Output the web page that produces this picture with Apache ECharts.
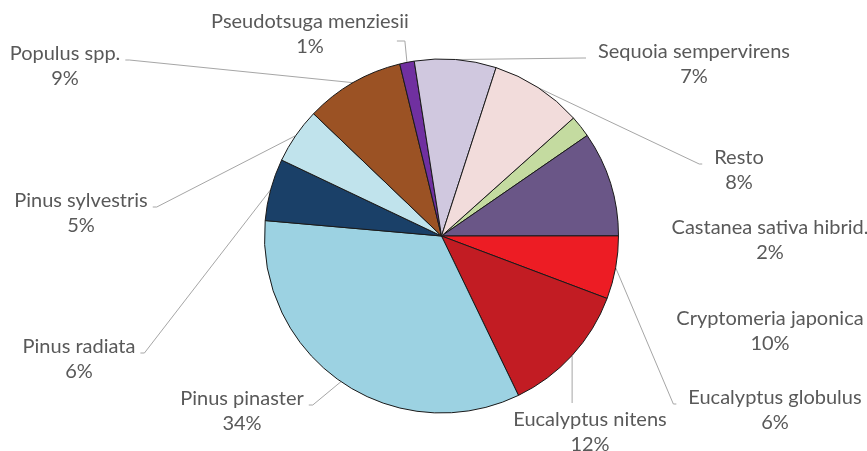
<!DOCTYPE html>
<html><head><meta charset="utf-8">
<script src="https://cdn.jsdelivr.net/npm/echarts@6/dist/echarts.min.js"></script>
<style>html,body{margin:0;padding:0;background:#fff}#c{width:867px;height:451px}</style>
</head><body><div id="c"></div>
<script>
// ---- data ----
const categories = ['Castanea sativa hibrid.', 'Cryptomeria japonica', 'Eucalyptus globulus', 'Eucalyptus nitens',
  'Pinus pinaster', 'Pinus radiata', 'Pinus sylvestris', 'Populus spp.', 'Pseudotsuga menziesii',
  'Sequoia sempervirens', 'Resto'];
const values = [2.0, 9.6, 5.75, 12.1, 33.55, 5.67, 5.08, 9.07, 1.33, 7.45, 8.4];

// ---- styles / layout ----
const colors = ['#c4dba0', '#6a5687', '#ed1c24', '#c21c23', '#9cd2e2', '#1a4068', '#c0e3ec', '#9b5224',
  '#7030a0', '#d0c8df', '#f2dcdb'];
const labelPos = [[770, 240], [770, 331], [775, 410], [590, 432], [242, 411], [79, 359], [81, 213],
  [65, 66], [310, 34], [694, 64], [739, 170]];
const labelAnchor = ['N', 'N', 'L', 'T', 'R', 'R', 'R', 'R', 'BR', 'L', 'L'];

const chart = echarts.init(document.getElementById('c'), null, {renderer: 'canvas'});
chart.setOption({
  animation: false,
  backgroundColor: '#ffffff',
  series: [{
    type: 'pie',
    center: [441.5, 236],
    radius: 177,
    startAngle: 41.8,
    clockwise: true,
    avoidLabelOverlap: false,
    itemStyle: {borderColor: '#1a1a1a', borderWidth: 1},
    emphasis: {disabled: true},
    label: {
      show: true,
      position: 'outside',
      color: '#595959',
      fontFamily: 'Lato',
      fontSize: 20,
      lineHeight: 25,
      formatter: p => p.name + '\n' + Math.round(p.percent) + '%'
    },
    labelLine: {show: true, length: 10, length2: 10, lineStyle: {color: '#a6a6a6', width: 1}},
    labelLayout: function (p) {
      const i = p.dataIndex;
      const x = labelPos[i][0], y = labelPos[i][1];
      const w = p.labelRect.width, h = p.labelRect.height;
      const out = {x: x, y: y, align: 'center', verticalAlign: 'middle'};
      const a = labelAnchor[i];
      const s = p.labelLinePoints ? p.labelLinePoints[0] : null;
      if (s && a !== 'N') {
        const ay = y - 6;
        let pts;
        if (a === 'R') { const ex = x + w / 2 + 5; pts = [s, [ex + 4, ay], [ex, ay]]; }
        else if (a === 'L') { const ex = x - w / 2 - 12; pts = [s, [ex - 3, ay], [ex, ay]]; }
        else if (a === 'T') { pts = [s, [s[0], y - h / 2 - 4]]; }
        else { const ex = x + w / 2 - 12; pts = [s, [ex + 8, y + 7], [ex, y + 7]]; }
        out.labelLinePoints = pts;
      }
      return out;
    },
    data: categories.map((c, i) => ({
      name: c, value: values[i], itemStyle: {color: colors[i]},
      labelLine: {show: labelAnchor[i] !== 'N'}
    }))
  }]
});
</script></body></html>
